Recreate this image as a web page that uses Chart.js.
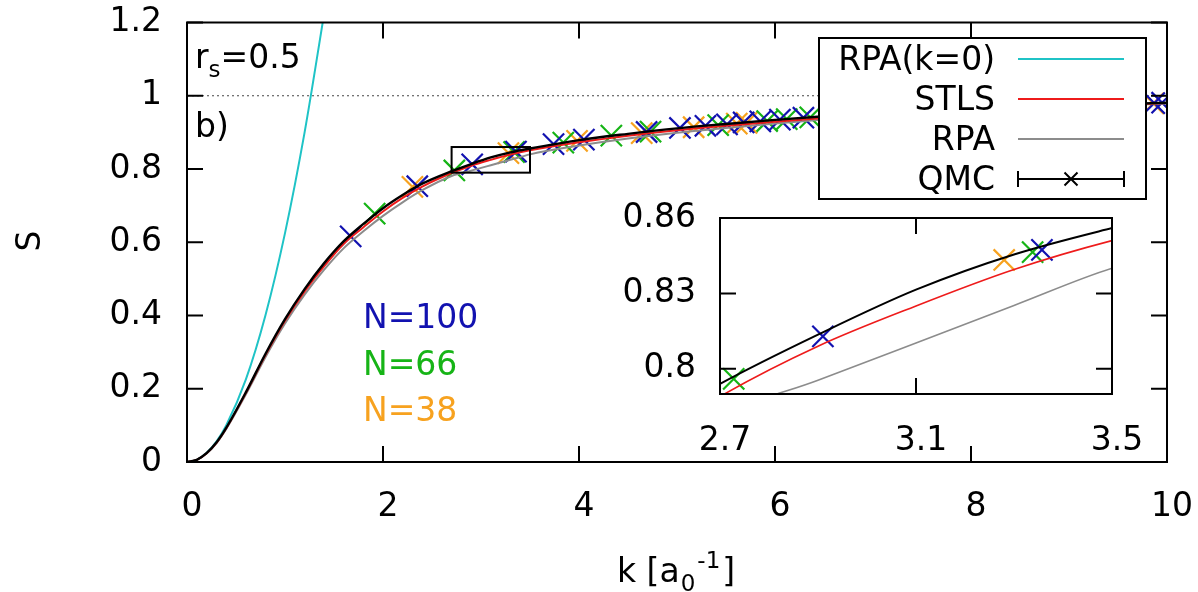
<!DOCTYPE html>
<html>
<head>
<meta charset="utf-8">
<script src="https://cdn.jsdelivr.net/npm/chart.js@4.4.1/dist/chart.umd.min.js"></script>
<style>
  html, body { margin: 0; padding: 0; background: #fff; }
  #wrap { position: relative; width: 1198px; height: 592px; }
  #mainChart { position: absolute; left: 0; top: 0; }
  #insetChart { position: absolute; left: 600px; top: 195px; }
</style>
</head>
<body>
<div id="wrap">
  <canvas id="mainChart" width="1198" height="592"></canvas>
  <canvas id="insetChart" width="560" height="265"></canvas>
</div>
<script>
// static structure factor S(k), rs = 0.5
const kGrid  = [0, 0.1, 0.2, 0.3, 0.4, 0.6, 0.8, 1.0, 1.2, 1.4, 1.6, 1.8, 2.0, 2.2, 2.4, 2.7, 2.9, 3.1, 3.3, 3.5, 4, 4.5, 5, 5.5, 6, 6.5, 7, 8, 9, 10];
const sQmc   = [0, 0.006, 0.024, 0.053, 0.093, 0.19, 0.295, 0.39, 0.472, 0.543, 0.603, 0.65, 0.693, 0.729, 0.76, 0.794, 0.8136, 0.8315, 0.8455, 0.856, 0.879, 0.896, 0.911, 0.923, 0.934, 0.944, 0.952, 0.964, 0.973, 0.981];
const sStls  = [0, 0.006, 0.024, 0.052, 0.092, 0.188, 0.292, 0.386, 0.466, 0.535, 0.596, 0.641, 0.684, 0.721, 0.752, 0.789, 0.809, 0.825, 0.8395, 0.851, 0.873, 0.891, 0.906, 0.918, 0.929, 0.939, 0.948, 0.961, 0.971, 0.98];
const sRpa   = [0, 0.006, 0.023, 0.051, 0.09, 0.184, 0.286, 0.378, 0.457, 0.525, 0.584, 0.63, 0.672, 0.709, 0.742, 0.781, 0.7955, 0.8103, 0.8252, 0.84, 0.864, 0.883, 0.899, 0.912, 0.924, 0.935, 0.944, 0.958, 0.969, 0.979];

// long-wavelength limit of RPA
const kSmall = [0, 0.1, 0.2, 0.3, 0.4, 0.6, 0.8, 1.0, 1.2, 1.4];
const sRpaK0 = [0, 0.006, 0.025, 0.056, 0.1, 0.225, 0.4, 0.625, 0.9, 1.225];

// QMC points for three particle numbers
const n100K = [1.67, 2.35, 2.91, 3.357, 3.74, 4.05, 4.69, 5.03, 5.29, 5.51, 5.68, 5.85, 6.05, 6.29, 9.87, 9.95];
const n100S = [0.616, 0.753, 0.8129, 0.8473, 0.868, 0.880, 0.901, 0.912, 0.918, 0.922, 0.927, 0.930, 0.935, 0.940, 0.980, 0.981];
const n66K  = [1.915, 2.728, 3.338, 3.84, 4.33, 4.73, 5.42, 5.92, 6.12, 6.36];
const n66S  = [0.678, 0.796, 0.8464, 0.872, 0.891, 0.902, 0.920, 0.931, 0.936, 0.941];
const n38K  = [2.30, 3.28, 3.98, 4.64, 5.17, 5.61, 5.71, 9.86];
const n38S  = [0.751, 0.8433, 0.877, 0.898, 0.914, 0.924, 0.926, 0.979];

const xTicks = [0, 2, 4, 6, 8, 10];
const yTicks = [0, 0.2, 0.4, 0.6, 0.8, 1, 1.2];
const zoomK = [2.7, 3.5];
const zoomS = [0.79, 0.86];
const insetXTicks = [2.7, 3.1, 3.5];
const insetYTicks = [0.8, 0.83, 0.86];

const legendNames = ['RPA(k=0)', 'STLS', 'RPA', 'QMC'];
const sizeLabels = ['N=100', 'N=66', 'N=38'];

const C = {
  cyan: '#1fc3c6', red: '#ee1b1b', gray: '#8c8c8c', black: '#000',
  blue: '#1212b0', green: '#16b416', orange: '#f7a21f'
};
const FONT = '"DejaVu Sans", "Liberation Sans", sans-serif';

const pts = (ks, ss) => ks.map((k, i) => ({ x: k, y: ss[i] }));

function curve(data, color, w, order) {
  return { data, showLine: true, borderColor: color, borderWidth: w, pointRadius: 0,
           cubicInterpolationMode: 'monotone', order, clip: 0 };
}
function marks(data, color, r, order) {
  return { data, showLine: false, pointStyle: 'crossRot', pointRadius: r, pointBorderWidth: 2.2,
           borderColor: color, backgroundColor: color, order };
}

function makeDatasets(w, r, withRef) {
  const ds = [
    curve(pts(kSmall, sRpaK0), C.cyan, w, 5),
    curve(pts(kGrid, sRpa), C.gray, w, 3),
    curve(pts(kGrid, sStls), C.red, w, 2),
    marks(pts(n100K, n100S), C.blue, r, 4),
    marks(pts(n66K, n66S), C.green, r, 4),
    marks(pts(n38K, n38S), C.orange, r, 4),
    curve(pts(kGrid, sQmc), C.black, w + 0.4, 1)
  ];
  if (withRef) {
    ds.push({ data: [{ x: 0, y: 1 }, { x: 10, y: 1 }], showLine: true, borderColor: '#444',
              borderWidth: 1, borderDash: [2, 3], pointRadius: 0, order: 6 });
  }
  return ds;
}

// gnuplot-style border with inward tics on all four sides
function drawFrame(chart, xt, yt, len) {
  const { ctx, chartArea: a, scales: { x, y } } = chart;
  ctx.save();
  ctx.strokeStyle = '#000';
  ctx.lineWidth = 2;
  ctx.beginPath();
  xt.forEach(v => {
    const px = x.getPixelForValue(v);
    ctx.moveTo(px, a.bottom); ctx.lineTo(px, a.bottom - len);
    ctx.moveTo(px, a.top); ctx.lineTo(px, a.top + len);
  });
  yt.forEach(v => {
    const py = y.getPixelForValue(v);
    ctx.moveTo(a.left, py); ctx.lineTo(a.left + len, py);
    ctx.moveTo(a.right, py); ctx.lineTo(a.right - len, py);
  });
  ctx.stroke();
  ctx.strokeRect(a.left, a.top, a.right - a.left, a.bottom - a.top);
  ctx.restore();
}

function drawLegend(ctx) {
  ctx.save();
  ctx.fillStyle = '#fff';
  ctx.fillRect(819, 38, 327, 161);
  ctx.strokeStyle = '#000';
  ctx.lineWidth = 2;
  ctx.strokeRect(819, 38, 327, 161);
  ctx.font = '33px ' + FONT;
  ctx.textAlign = 'right';
  ctx.textBaseline = 'alphabetic';
  ctx.fillStyle = '#000';
  const colors = [C.cyan, C.red, C.gray, C.black];
  const x0 = 1018, x1 = 1124;
  legendNames.forEach((name, i) => {
    const base = 70 + i * 40;
    ctx.fillText(name, 995, base);
    const ly = base - 11;
    ctx.strokeStyle = colors[i];
    ctx.lineWidth = 2;
    ctx.beginPath();
    ctx.moveTo(x0, ly); ctx.lineTo(x1, ly);
    if (i === 3) {
      ctx.moveTo(x0, ly - 8); ctx.lineTo(x0, ly + 8);
      ctx.moveTo(x1, ly - 8); ctx.lineTo(x1, ly + 8);
      const xm = (x0 + x1) / 2, d = 6.5;
      ctx.moveTo(xm - d, ly - d); ctx.lineTo(xm + d, ly + d);
      ctx.moveTo(xm + d, ly - d); ctx.lineTo(xm - d, ly + d);
    }
    ctx.stroke();
  });
  ctx.restore();
}

function drawNotes(ctx) {
  ctx.save();
  ctx.fillStyle = '#000';
  ctx.textBaseline = 'alphabetic';
  ctx.textAlign = 'left';
  // r_s = 0.5
  ctx.font = '33px ' + FONT;
  ctx.fillText('r', 195, 68);
  let x = 195 + ctx.measureText('r').width;
  ctx.font = '23px ' + FONT;
  ctx.fillText('s', x, 77);
  x += ctx.measureText('s').width;
  ctx.font = '33px ' + FONT;
  ctx.fillText('=0.5', x, 68);
  ctx.fillText('b)', 195, 137);

  const nColors = [C.blue, C.green, C.orange];
  sizeLabels.forEach((t, i) => {
    ctx.fillStyle = nColors[i];
    ctx.fillText(t, 363, 328 + i * 46.5);
  });

  // axis titles
  ctx.fillStyle = '#000';
  ctx.save();
  ctx.translate(31, 241);
  ctx.rotate(-Math.PI / 2);
  ctx.textAlign = 'center';
  ctx.textBaseline = 'middle';
  ctx.fillText('S', 0, 0);
  ctx.restore();

  x = 617;
  ctx.fillText('k [a', x, 582);
  x += ctx.measureText('k [a').width + 1;
  ctx.font = '23px ' + FONT;
  ctx.fillText('0', x, 591);
  x += ctx.measureText('0').width + 2;
  ctx.fillText('-1', x, 568);
  x += ctx.measureText('-1').width + 2;
  ctx.font = '33px ' + FONT;
  ctx.fillText(']', x, 582);
  ctx.restore();
}

const mainExtras = {
  id: 'mainExtras',
  afterDraw(chart) {
    const { ctx, scales: { x, y } } = chart;
    drawFrame(chart, xTicks, yTicks, 16);
    // zoomed region marker
    const l = x.getPixelForValue(zoomK[0]), r = x.getPixelForValue(zoomK[1]);
    const t = y.getPixelForValue(zoomS[1]), b = y.getPixelForValue(zoomS[0]);
    ctx.save();
    ctx.strokeStyle = '#000';
    ctx.lineWidth = 2;
    ctx.strokeRect(l, t, r - l, b - t);
    ctx.restore();
    drawLegend(ctx);
    drawNotes(ctx);
  }
};

const insetExtras = {
  id: 'insetExtras',
  beforeDatasetsDraw(chart) {
    const { ctx, chartArea: a } = chart;
    ctx.save();
    ctx.fillStyle = '#fff';
    ctx.fillRect(a.left, a.top, a.right - a.left, a.bottom - a.top);
    ctx.restore();
  },
  afterDraw(chart) {
    drawFrame(chart, insetXTicks, insetYTicks, 16);
  }
};

const tickFont = { family: FONT, size: 33 };

// fixed axis box; label overhang must not shrink the plot area
function fixBox(prop, size) {
  return s => {
    s[prop] = size;
    s.paddingTop = s.paddingBottom = s.paddingLeft = s.paddingRight = 0;
  };
}

function axis(min, max, list, fit, pad, offset) {
  return {
    type: 'linear', min, max,
    afterBuildTicks: s => { s.ticks = list.map(v => ({ value: v })); },
    afterFit: fit,
    grid: { display: false, drawTicks: false },
    border: { display: false },
    ticks: { font: tickFont, color: '#000', autoSkip: false, maxRotation: 0,
             padding: pad, labelOffset: offset, callback: v => String(v) }
  };
}

new Chart(document.getElementById('mainChart'), {
  type: 'scatter',
  data: { datasets: makeDatasets(2, 15, true) },
  options: {
    responsive: false, animation: false, devicePixelRatio: 1,
    layout: { padding: { top: 22.5, right: 31, left: 0, bottom: 0 } },
    plugins: { legend: { display: false }, tooltip: { enabled: false } },
    scales: {
      x: axis(0, 10, xTicks, fixBox('height', 130), 26, 5),
      y: axis(0, 1.2, yTicks, fixBox('width', 187), 25, 0)
    }
  },
  plugins: [mainExtras]
});

new Chart(document.getElementById('insetChart'), {
  type: 'scatter',
  data: { datasets: makeDatasets(1.6, 15, false).map(d => Object.assign(d, { clip: 0 })) },
  options: {
    responsive: false, animation: false, devicePixelRatio: 1,
    layout: { padding: { top: 23, right: 48, left: 0, bottom: 0 } },
    plugins: { legend: { display: false }, tooltip: { enabled: false } },
    scales: {
      x: axis(zoomK[0], zoomK[1], insetXTicks, fixBox('height', 66), 28, 5),
      y: axis(zoomS[0], zoomS[1], insetYTicks, fixBox('width', 120), 24, 0)
    }
  },
  plugins: [insetExtras]
});
</script>
</body>
</html>
